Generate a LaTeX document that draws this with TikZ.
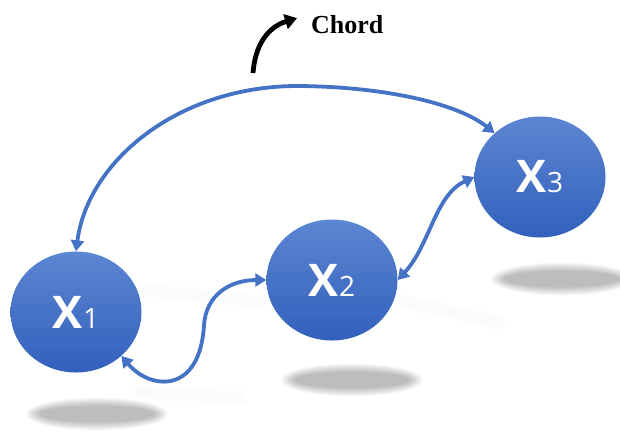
\documentclass[tikz,border=0pt]{standalone}
\usepackage{fontspec}
\newfontfamily\nodefont{Open Sans}
\newfontfamily\chordfont{Liberation Serif}
\usetikzlibrary{arrows.meta,shapes.geometric}

\definecolor{linkblue}{RGB}{68,114,196}
\definecolor{balltop}{RGB}{92,134,210}
\definecolor{ballbottom}{RGB}{50,96,188}

\tikzset{
  ball/.style={ellipse, minimum width=131pt, minimum height=121pt, inner sep=0pt,
    draw=none, top color=balltop, bottom color=ballbottom, text=white,
    font=\nodefont\bfseries\fontsize{45}{45}\selectfont},
  link/.style={draw=linkblue, line width=3.8pt,
    {Triangle[width=13pt,length=11pt]}-{Triangle[width=13pt,length=11pt]}},
  pointer/.style={draw=black, line width=4.8pt, -{Triangle[width=15pt,length=12pt]}},
  shadowblob/.pic={
    \foreach \i in {0,...,9}{
      \fill[black,opacity=0.027] (0,0) ellipse [x radius={(71-1.5*\i)*1pt}, y radius={(16.5-0.95*\i)*1pt}];
    }
  },
  haze/.style={line cap=round, black, opacity=0.008},
}

\newcommand\subdigit[1]{{\mdseries\fontsize{28}{28}\selectfont #1}}

\begin{document}
\begin{tikzpicture}[x=1pt,y=1pt]
  \fill[white] (0,0) rectangle (620,-432);
  \useasboundingbox (0,0) rectangle (620,-432);

  % faint reflections on the floor
  \foreach \w in {8,16}{
    \draw[haze, line width=\w pt] (145,-290) -- (262,-302);
    \draw[haze, line width=\w pt] (405,-302) -- (498,-322);
    \draw[haze, line width=\w pt] (140,-392) -- (240,-398);
  }

  % floor shadows
  \pic at (97,-414) {shadowblob};
  \pic at (352,-380) {shadowblob};
  \pic at (562,-279) {shadowblob};

  % nodes
  \node[ball] (x1) at (76,-312) {X\subdigit{1}};
  \node[ball] (x2) at (332,-280) {X\subdigit{2}};
  \node[ball] (x3) at (540,-177) {X\subdigit{3}};

  % chord over the top
  \draw[link] (x1.north) .. controls (88,-160) and (180,-85) .. (300,-86)
                         .. controls (390,-87) and (460,-105) .. (x3.136);

  % neighbouring links
  \draw[link] (x1.-44) .. controls (150,-390) and (200,-395) .. (204,-325)
                       .. controls (206,-295) and (230,-280) .. (x2.west);
  \draw[link] (x2.east) .. controls (430,-245) and (435,-195) .. (x3.west);

  % label
  \node[anchor=base west, inner sep=0pt, font=\chordfont\bfseries\fontsize{26}{26}\selectfont]
    (chord) at (311,-33) {Chord};
  \coordinate (chordtail) at (253,-73);
  \coordinate (chordtip) at ([xshift=-14pt,yshift=6pt]chord.west);
  \draw[pointer] (chordtail) .. controls (255,-45) and (268,-27) .. (chordtip);
\end{tikzpicture}
\end{document}
